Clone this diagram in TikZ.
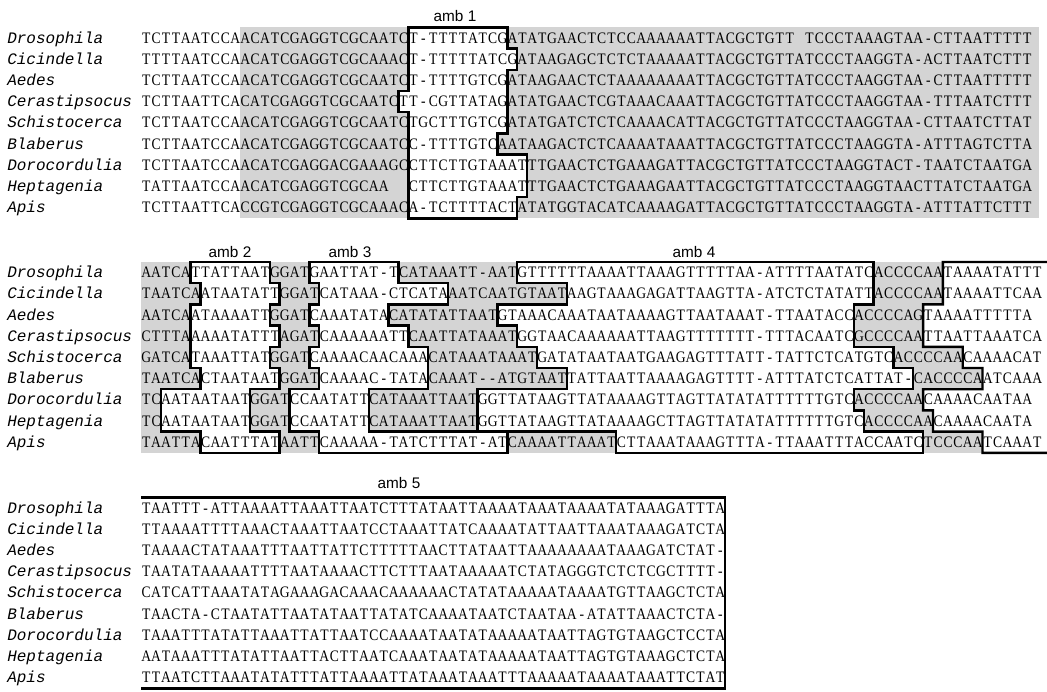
\documentclass[tikz,border=0pt]{standalone}
\usepackage{fontspec}
\newfontfamily\seqfont[FakeStretch=0.85]{Liberation Serif}
\newfontfamily\taxfont{Liberation Mono}
\newfontfamily\ambfont{Liberation Sans}

% one fixed cell per base
\newlength\cellw
\setlength\cellw{7.425pt}
\def\seqrow#1{\seqloop#1\relax}
\def\seqloop#1{\ifx#1\relax\else\makebox[\cellw]{#1}\expandafter\seqloop\fi}

\tikzset{
  declare function={cx(\c)=141+9.9*\c;},
  seqtext/.style={anchor=base west, inner sep=0pt, font=\seqfont\fontsize{12}{14}\selectfont},
  taxon/.style={anchor=base west, inner sep=0pt, font=\taxfont\itshape\fontsize{12}{14}\selectfont},
  amblabel/.style={anchor=base, inner sep=0pt, font=\ambfont\fontsize{11.5}{13}\selectfont},
  ambline/.style={line width=1.8pt, line join=miter},
  grayfill/.style={fill=black!17}
}

% box with stepped sides: top y, first left column, left columns (top down), right columns (bottom up)
\newcommand\ambbox[4]{%
  \filldraw[ambline, fill=white] ({cx(#2)},#1)
    \foreach \l [count=\k from 0] in {#3} { -- ({cx(\l)},{#1+21.2*\k}) -- ({cx(\l)},{#1+21.2*(\k+1)}) }
    \foreach \r [count=\k from 0] in {#4} { -- ({cx(\r)},{#1+21.2*(9-\k)}) -- ({cx(\r)},{#1+21.2*(8-\k)}) }
    -- cycle;}

\begin{document}
\begin{tikzpicture}[x=0.75pt, y=-0.75pt]
\useasboundingbox (0,0) rectangle (1047,692);

% conserved parts
\fill[grayfill] ({cx(10)},27.5) rectangle (1039,218.3);
\fill[grayfill] ({cx(0)},262) rectangle ({cx(91)},452.8);

% ambiguous parts
\ambbox{27.5}{27}{27,27,27,26,27,27,27,27,27}{38,39,39,36,37,37,37,38,37}
\ambbox{262}{5}{5,6,5,5,5,6,2,2,6}{14,11,11,14,13,14,13,14,13}
\ambbox{262}{17}{17,18,17,18,17,18,15,15,18}{37,23,23,29,29,27,25,31,26}
\ambbox{262}{38}{38,43,36,38,40,43,34,34,48}{79,73,72,78,76,72,72,74,74}

% amb 5 runs on into the last block
\fill[white] (1047,262) -- ({cx(81)},262)
  \foreach \l [count=\k from 0] in {81,81,79,79,83,85,79,80,85} { -- ({cx(\l)},{262+21.2*\k}) -- ({cx(\l)},{262+21.2*(\k+1)}) }
  -- (1047,452.8) -- cycle;
\draw[ambline] (1047,262) -- ({cx(81)},262)
  \foreach \l [count=\k from 0] in {81,81,79,79,83,85,79,80,85} { -- ({cx(\l)},{262+21.2*\k}) -- ({cx(\l)},{262+21.2*(\k+1)}) }
  -- (1047,452.8);
\draw[ambline] (141,497.5) -- ({cx(59)},497.5) -- ({cx(59)},688.3) -- (141,688.3);

\node[amblabel] (amb1) at (455,22) {amb 1};
\node[amblabel] (amb2) at (230,257) {amb 2};
\node[amblabel] (amb3) at (350,257) {amb 3};
\node[amblabel] (amb4) at (694,257) {amb 4};
\node[amblabel] (amb5) at (399,488) {amb 5};

% taxa
\foreach \t/\b in {27.5/1, 262/2, 497.5/3}
  \foreach \n [count=\i from 0] in {Drosophila,Cicindella,Aedes,Cerastipsocus,Schistocerca,Blaberus,Dorocordulia,Heptagenia,Apis}
    \node[taxon] (tax\b-\i) at (7,{\t+15.6+21.2*\i}) {\n};

% sequences
\foreach \s [count=\i from 0] in {
  TCTTAATCCAACATCGAGGTCGCAATCT-TTTTATCGATATGAACTCTCCAAAAAATTACGCTGTT~TCCCTAAAGTAA-CTTAATTTTT,
  TTTTAATCCAACATCGAGGTCGCAAACT-TTTTTATCGATAAGAGCTCTCTAAAAATTACGCTGTTATCCCTAAGGTA-ACTTAATCTTT,
  TCTTAATCCAACATCGAGGTCGCAATCT-TTTTGTCGATAAGAACTCTAAAAAAAATTACGCTGTTATCCCTAAGGTAA-CTTAATTTTT,
  TCTTAATTCACATCGAGGTCGCAATCTT-CGTTATAGATATGAACTCGTAAACAAATTACGCTGTTATCCCTAAGGTAA-TTTAATCTTT,
  TCTTAATCCAACATCGAGGTCGCAATCTGCTTTGTCGATATGATCTCTCAAAACATTACGCTGTTATCCCTAAGGTAA-CTTAATCTTAT,
  TCTTAATCCAACATCGAGGTCGCAATCC-TTTTGTCAATAAGACTCTCAAAATAAATTACGCTGTTATCCCTAAGGTA-ATTTAGTCTTA,
  TCTTAATCCAACATCGAGGACGAAAGCCTTCTTGTAAATTTGAACTCTGAAAGATTACGCTGTTATCCCTAAGGTACT-TAATCTAATGA,
  TATTAATCCAACATCGAGGTCGCAA~~CTTCTTGTAAATTTGAACTCTGAAAGAATTACGCTGTTATCCCTAAGGTAACTTATCTAATGA,
  TCTTAATTCACCGTCGAGGTCGCAAACA-TCTTTTACTATATGGTACATCAAAAGATTACGCTGTTATCCCTAAGGTA-ATTTATTCTTT}
  \node[seqtext] (row1-\i) at ({cx(0)},{27.5+15.6+21.2*\i}) {\expandafter\seqrow\expandafter{\s}};

\foreach \s [count=\i from 0] in {
  AATCATTATTAATGGATGAATTAT-TCATAAATT-AATGTTTTTTAAAATTAAAGTTTTTAA-ATTTTAATATCACCCCAATAAAATATTT,
  TAATCAATAATATTGGATCATAAA-CTCATAAATCAATGTAATAAGTAAAGAGATTAAGTTA-ATCTCTATATTACCCCAATAAAATTCAA,
  AATCAATAAAATTGGATCAAATATACATATATTAATGTAAACAAATAATAAAAGTTAATAAAT-TTAATACCACCCCAGTAAAATTTTTA,
  CTTTAAAAATATTTAGATCAAAAAATTCAATTATAAATGGTAACAAAAAATTAAGTTTTTTT-TTTACAATCGCCCCAATTAATTAAATCA,
  GATCATAAATTATGGATCAAAACAACAAACATAAATAAATGATATAATAATGAAGAGTTTATT-TATTCTCATGTCACCCCAACAAAACAT,
  TAATCACTAATAATGGATCAAAAC-TATACAAAT--ATGTAATTATTAATTAAAAGAGTTTT-ATTTATCTCATTAT-CACCCCAATCAAA,
  TCAATAATAATGGATCCAATATTCATAAATTAATGGTTATAAGTTATAAAAGTTAGTTATATATTTTTTGTCACCCCAACAAAACAATAA,
  TCAATAATAATGGATCCAATATTCATAAATTAATGGTTATAAGTTATAAAAGCTTAGTTATATATTTTTTGTCACCCCAACAAAACAATA,
  TAATTACAATTTATAATTCAAAAA-TATCTTTAT-ATCAAAATTAAATCTTAAATAAAGTTTA-TTAAATTTACCAATCTCCCAATCAAAT}
  \node[seqtext] (row2-\i) at ({cx(0)},{262+15.6+21.2*\i}) {\expandafter\seqrow\expandafter{\s}};

\foreach \s [count=\i from 0] in {
  TAATTT-ATTAAAATTAAATTAATCTTTATAATTAAAATAAATAAAATATAAAGATTTA,
  TTAAAATTTTAAACTAAATTAATCCTAAATTATCAAAATATTAATTAAATAAAGATCTA,
  TAAAACTATAAATTTAATTATTCTTTTTAACTTATAATTAAAAAAAATAAAGATCTAT-,
  TAATATAAAAATTTTAATAAAACTTCTTTAATAAAAATCTATAGGGTCTCTCGCTTTT-,
  CATCATTAAATATAGAAAGACAAACAAAAAACTATATAAAAATAAAATGTTAAGCTCTA,
  TAACTA-CTAATATTAATATAATTATATCAAAATAATCTAATAA-ATATTAAACTCTA-,
  TAAATTTATATTAAATTATTAATCCAAAATAATATAAAAATAATTAGTGTAAGCTCCTA,
  AATAAATTTATATTAATTACTTAATCAAATAATATAAAAATAATTAGTGTAAAGCTCTA,
  TTAATCTTAAATATATTTATTAAAATTATAAATAAATTTAAAAATAAAATAAATTCTAT}
  \node[seqtext] (row3-\i) at ({cx(0)},{497.5+15.6+21.2*\i}) {\expandafter\seqrow\expandafter{\s}};
\end{tikzpicture}
\end{document}
